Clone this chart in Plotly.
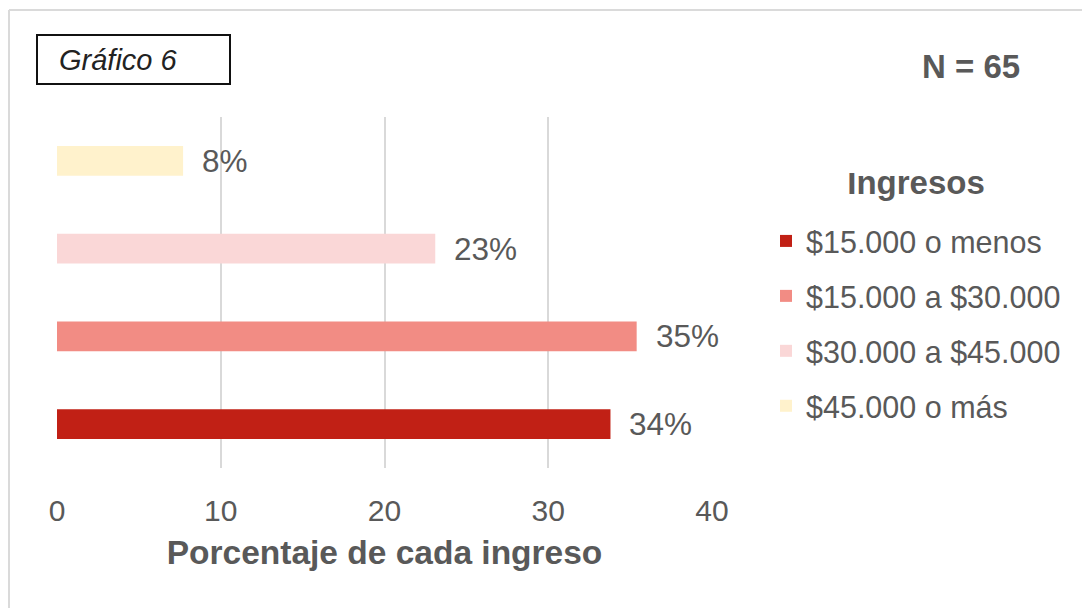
import plotly.graph_objects as go

# ---- data ----
categories = ["$15.000 o menos", "$15.000 a $30.000", "$30.000 a $45.000", "$45.000 o más"]
values = [33.8, 35.4, 23.1, 7.7]
value_labels = ["34%", "35%", "23%", "8%"]
colors = ["#C12015", "#F28C84", "#FAD7D7", "#FFF2CC"]
x_ticks = [0, 10, 20, 30, 40]

W, H = 1082, 608
L, R, T, B = 57, 370, 117, 140
PW, PH = W - L - R, H - T - B


def px_x(px):
    return (px - L) / PW


def px_y(py):
    return (H - B - py) / PH


FONT = "Liberation Sans, Arial, sans-serif"
GRAY = "#595959"

fig = go.Figure()
for i, (cat, val, col) in enumerate(zip(categories, values, colors)):
    fig.add_trace(go.Bar(
        x=[val], y=[cat], orientation="h", name=cat,
        marker=dict(color=col, line=dict(width=0)),
        legendgroup=f"g{i}", hoverinfo="x+y",
    ))

annotations = []
for cat, val, lab in zip(categories, values, value_labels):
    annotations.append(dict(
        x=val, y=cat, xref="x", yref="y", text=lab, showarrow=False,
        xanchor="left", yanchor="middle", xshift=17,
        font=dict(family=FONT, size=31.5, color=GRAY),
    ))

annotations.append(dict(
    x=px_x(57), y=px_y(60), xref="paper", yref="paper",
    text="<i>Gráfico 6</i>", showarrow=False, xanchor="left", yanchor="middle",
    font=dict(family=FONT, size=29, color="#222222"),
))
annotations.append(dict(
    x=px_x(1022), y=px_y(66), xref="paper", yref="paper",
    text="<b>N = 65</b>", showarrow=False, xanchor="right", yanchor="middle",
    font=dict(family=FONT, size=33, color=GRAY),
))

shapes = [
    dict(type="rect", xref="paper", yref="paper",
         x0=px_x(37), x1=px_x(230), y0=px_y(84), y1=px_y(35),
         line=dict(color="#111111", width=2), fillcolor="rgba(0,0,0,0)"),
    dict(type="line", xref="paper", yref="paper",
         x0=px_x(9), x1=px_x(1090), y0=px_y(10), y1=px_y(10),
         line=dict(color="#DADADA", width=2)),
    dict(type="line", xref="paper", yref="paper",
         x0=px_x(9), x1=px_x(9), y0=px_y(10), y1=px_y(620),
         line=dict(color="#DADADA", width=2)),
]

fig.update_layout(
    width=W, height=H,
    margin=dict(l=L, r=R, t=T, b=B, autoexpand=False),
    paper_bgcolor="white", plot_bgcolor="white",
    barmode="overlay", bargap=0.66,
    font=dict(family=FONT, size=30, color=GRAY),
    xaxis=dict(
        range=[0, 40], tickvals=x_ticks, showgrid=True,
        gridcolor="#D9D9D9", gridwidth=2, zeroline=False,
        showline=False, ticks="", ticklabelstandoff=22,
        tickfont=dict(family=FONT, size=30, color=GRAY),
        title=dict(text="<b>Porcentaje de cada ingreso</b>",
                   font=dict(family=FONT, size=33.5, color=GRAY), standoff=14),
        fixedrange=True,
    ),
    yaxis=dict(
        type="category", categoryorder="array", categoryarray=categories,
        showticklabels=False, showgrid=False, zeroline=False, showline=False,
        ticks="", fixedrange=True,
    ),
    showlegend=True,
    legend=dict(
        x=px_x(766), y=px_y(173), xanchor="left", yanchor="top",
        traceorder="grouped", tracegroupgap=12.3,
        title=dict(text="<span style='font-size:33px'><b>Ingresos</b></span><br> ",
                   side="top center",
                   font=dict(family=FONT, size=16, color=GRAY)),
        font=dict(family=FONT, size=30.5, color=GRAY),
        bgcolor="rgba(0,0,0,0)",
    ),
    annotations=annotations,
    shapes=shapes,
)

fig.write_html("out.html", config={"displayModeBar": False},
               post_script="document.body.style.margin='0';")
